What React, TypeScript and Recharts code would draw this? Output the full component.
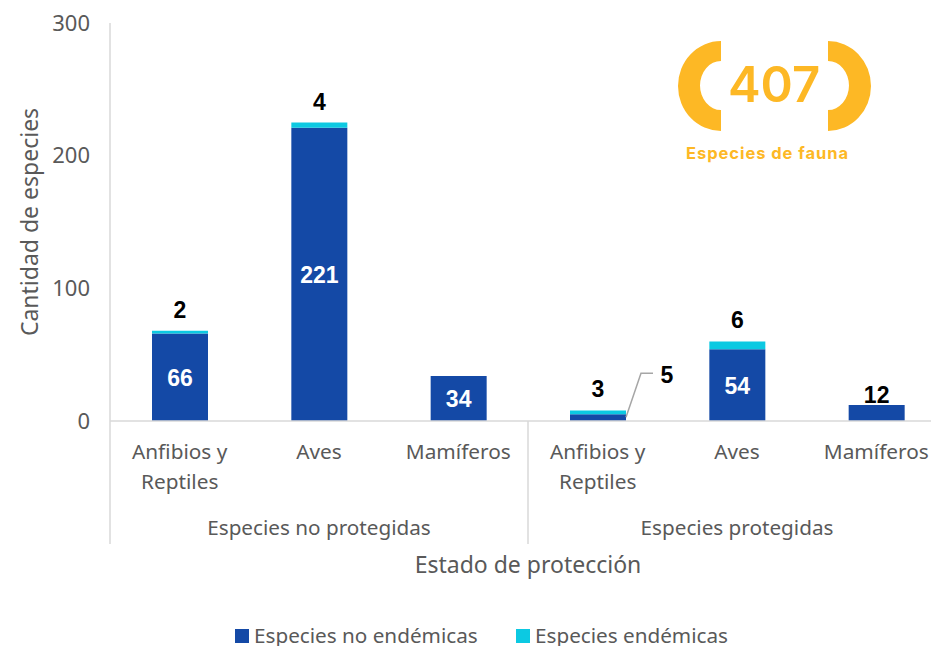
import * as React from "react";
import { Bar, BarChart, Label, LabelList, Legend, XAxis, YAxis } from "recharts";

const species = ["Anfibios y Reptiles", "Aves", "Mamíferos", "Anfibios y Reptiles", "Aves", "Mamíferos"];
const groups = [
  "Especies no protegidas",
  "Especies no protegidas",
  "Especies no protegidas",
  "Especies protegidas",
  "Especies protegidas",
  "Especies protegidas",
];
const noEndemicas = [66, 221, 34, 5, 54, 12];
const endemicas = [2, 4, 0, 3, 6, 0];
const yTicks = [0, 100, 200, 300];

const data = species.map((name, i) => ({
  key: `${groups[i]}-${i}`,
  name,
  group: groups[i],
  noEndemicas: noEndemicas[i],
  endemicas: endemicas[i],
}));

const GREY = "#595959";
const AXIS = "#d9d9d9";
const BLUE = "#1449a6";
const CYAN = "#0cc9e2";
const GOLD = "#fdb825";
const FONT = "'Noto Sans', sans-serif";
const PLOT_WIDTH = 836;

function wrapName(name: string) {
  return name === "Anfibios y Reptiles" ? ["Anfibios y", "Reptiles"] : [name];
}

function SpeciesTick({ x, y, index }: any) {
  return (
    <text x={x} y={y} textAnchor="middle" fontFamily={FONT} fontSize={20.8} fill={GREY}>
      {wrapName(species[index]).map((line, i) => (
        <tspan key={line} x={x} y={y + 30 + i * 29.5}>
          {line}
        </tspan>
      ))}
    </text>
  );
}

function GroupTick({ x, payload }: any) {
  const left = x - PLOT_WIDTH / 4;
  return (
    <g>
      <line x1={left} x2={left} y1={421} y2={544} stroke={AXIS} strokeWidth={1.5} />
      <text x={x} y={535} textAnchor="middle" fontFamily={FONT} fontSize={20.7} fill={GREY}>
        {payload.value}
      </text>
    </g>
  );
}

function InnerLabel({ x, y, width, height, value }: any) {
  const cx = x + width / 2;
  const textProps = { fontFamily: "'Liberation Sans', Arial, sans-serif", fontSize: 23, fontWeight: 700 };
  if (value === 5) {
    // small bar: label sits out to the right on a leader line
    const x0 = x + width;
    return (
      <g>
        <polyline
          points={`${x0},${y + 3} ${x0 + 15},${y - 41} ${x0 + 27},${y - 41}`}
          fill="none"
          stroke="#a6a6a6"
          strokeWidth={1.5}
        />
        <text x={x0 + 41} y={y - 39} textAnchor="middle" dominantBaseline="central" fill="#000" {...textProps}>
          {value}
        </text>
      </g>
    );
  }
  if (value === 12) {
    return (
      <text x={cx} y={y - 10} textAnchor="middle" dominantBaseline="central" fill="#000" {...textProps}>
        {value}
      </text>
    );
  }
  return (
    <text x={cx} y={y + height / 2 + 1} textAnchor="middle" dominantBaseline="central" fill="#fff" {...textProps}>
      {value}
    </text>
  );
}

function TopLabel({ x, y, width, value, index }: any) {
  if (!value) return null;
  return (
    <text
      x={x + width / 2}
      y={y - (index === 4 ? 17 : 21)}
      textAnchor="middle"
      dominantBaseline="central"
      fill="#000"
      fontFamily="'Liberation Sans', Arial, sans-serif"
      fontSize={23}
      fontWeight={700}
    >
      {value}
    </text>
  );
}

function SpeciesLegend({ payload }: any) {
  return (
    <div style={{ display: "flex", alignItems: "center", height: 20, whiteSpace: "nowrap" }}>
      {(payload ?? []).map((item: any, i: number) => (
        <div key={item.value} style={{ display: "flex", alignItems: "center", width: i === 0 ? 281 : 220 }}>
          <span style={{ width: 14, height: 14, background: item.color, marginRight: 5, flex: "none" }} />
          <span style={{ color: GREY, fontFamily: FONT, fontSize: 20.7, lineHeight: "20px", position: "relative", top: -1 }}>
            {item.value}
          </span>
        </div>
      ))}
    </div>
  );
}

function Badge() {
  return (
    <svg width={931} height={200} style={{ position: "absolute", left: 0, top: 0, pointerEvents: "none" }}>
      <path d="M721 41 A43 45 0 0 0 721 131 L721 110 A21 24.5 0 0 1 721 61 Z" fill={GOLD} />
      <path d="M828 41 A43 45 0 0 1 828 131 L828 110 A21 24.5 0 0 0 828 61 Z" fill={GOLD} />
      <text x={774} y={84} textAnchor="middle" dominantBaseline="central" fontFamily="Inter, sans-serif" fontWeight={600} fontSize={49} fill={GOLD}>
        407
      </text>
      <text x={767.5} y={153} textAnchor="middle" dominantBaseline="central" fontFamily="Inter, sans-serif" fontWeight={700} fontSize={16.5} letterSpacing={0.95} fill={GOLD}>
        Especies de fauna
      </text>
    </svg>
  );
}

export default function App() {
  return (
    <div style={{ position: "absolute", left: 0, top: 0, width: 931, height: 646, overflow: "hidden", background: "#fff" }}>
      <BarChart
        width={946}
        height={646}
        data={data}
        margin={{ top: 23, right: 0, bottom: 50, left: 0 }}
      >
        <XAxis
          dataKey="key"
          xAxisId={0}
          height={75}
          interval={0}
          tick={<SpeciesTick />}
          tickLine={false}
          axisLine={{ stroke: AXIS, strokeWidth: 1.5 }}
        />
        <XAxis
          dataKey="group"
          xAxisId={1}
          height={80}
          interval={0}
          allowDuplicatedCategory={false}
          tick={<GroupTick />}
          tickLine={false}
          axisLine={false}
        >
          <Label value="Estado de protección" position="insideBottom" offset={3} fontFamily={FONT} fontSize={23} fill={GREY} />
        </XAxis>
        <YAxis
          width={110}
          domain={[0, 300]}
          ticks={yTicks}
          tickLine={false}
          tickMargin={14}
          tick={{ fontFamily: FONT, fontSize: 22, fill: GREY }}
          axisLine={{ stroke: AXIS, strokeWidth: 1.5 }}
        >
          <Label
            value="Cantidad de especies"
            angle={-90}
            position="insideLeft"
            offset={0}
            dx={30}
            fontFamily={FONT}
            fontSize={23}
            fill={GREY}
            style={{ textAnchor: "middle" }}
          />
        </YAxis>
        <Legend
          itemSorter={null}
          content={<SpeciesLegend />}
          wrapperStyle={{ left: 235, top: 626, width: 600, bottom: "auto" }}
        />
        <Bar
          dataKey="noEndemicas"
          name="Especies no endémicas"
          stackId="a"
          xAxisId={0}
          barSize={56}
          fill={BLUE}
          isAnimationActive={false}
        >
          <LabelList dataKey="noEndemicas" content={<InnerLabel />} />
        </Bar>
        <Bar
          dataKey="endemicas"
          name="Especies endémicas"
          stackId="a"
          xAxisId={0}
          barSize={56}
          fill={CYAN}
          isAnimationActive={false}
        >
          <LabelList dataKey="endemicas" content={<TopLabel />} />
        </Bar>
      </BarChart>
      <Badge />
    </div>
  );
}
